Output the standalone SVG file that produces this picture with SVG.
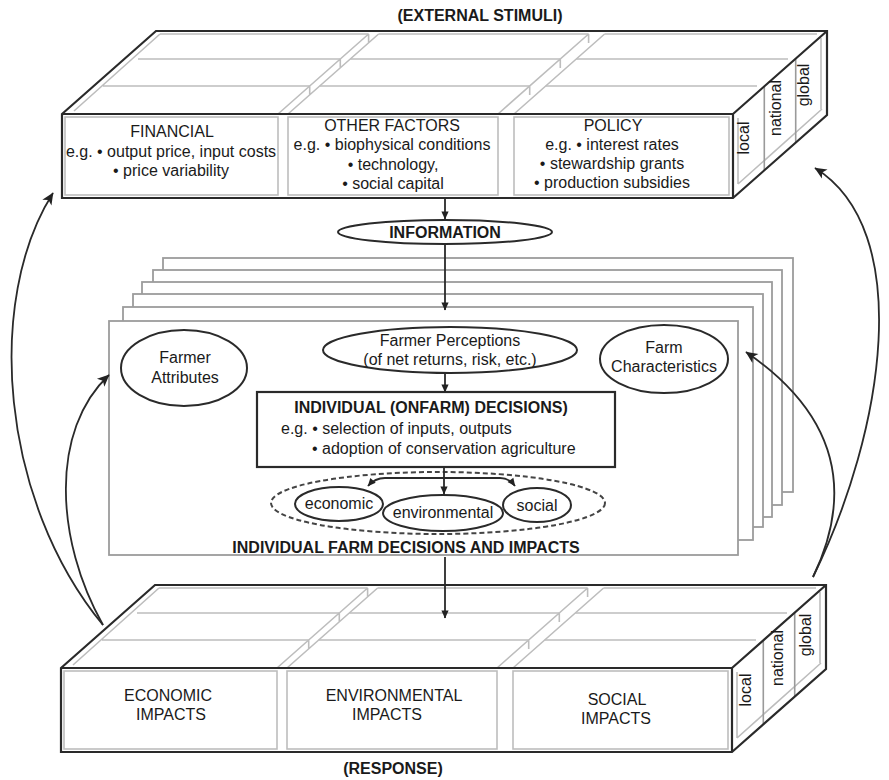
<svg xmlns="http://www.w3.org/2000/svg" xmlns:xlink="http://www.w3.org/1999/xlink" width="889" height="780" viewBox="0 0 889 780">
<style>
text{font-family:"Liberation Sans",Arial,sans-serif;font-size:16px;fill:#1a1a1a}
.b{font-weight:bold}
.m{text-anchor:middle}
.dark{fill:none;stroke:#2a2a2a;stroke-width:2.2}
.gray{fill:none;stroke:#bdbdbd;stroke-width:1.6}
.page{fill:#fff;stroke:#9c9c9c;stroke-width:1.8}
.ell{fill:#fff;stroke:#2a2a2a;stroke-width:2}
.con{fill:none;stroke:#2a2a2a;stroke-width:1.8}
</style>
<defs>
<marker id="ah" viewBox="0 0 10 10" refX="9.5" refY="5" markerWidth="9" markerHeight="8" markerUnits="userSpaceOnUse" orient="auto"><path d="M0,0.5 L10,5 L0,9.5 z" fill="#222"/></marker>
<marker id="ahL" viewBox="0 0 10 10" refX="9.5" refY="5" markerWidth="16" markerHeight="12" markerUnits="userSpaceOnUse" orient="auto"><path d="M0,0.5 L10,5 L0,9.5 L2.5,5 z" fill="#222"/></marker>
<g id="box3d">
<polygon points="0,0 94,-83 765,-83 671,0" fill="#fff"/>
<polygon points="671,0 765,-83 765,1 671,84" fill="#fff"/>
<rect x="0" y="0" width="671" height="84" fill="#fff"/>
<!-- top face gray lines -->
<path class="gray" d="M12,-3 L98,-80 M41,-28 L247.7,-28 M257.7,-28 L467.7,-28 M483.7,-28 L695,-28 M76,-55 L278.3,-55 M288.3,-55 L498.3,-55 M514.3,-55 L726,-55 M98,-80 L306.6,-80 M316.6,-80 L526.6,-80 M542.6,-80 L755,-80"/>
<path class="gray" d="M216,0 L306.6,-80 M226,0 L316.6,-80 M247.7,-28 L247.7,-19 M278.3,-55 L278.3,-46 M306.6,-80 L306.6,-71 M436,0 L526.6,-80 M452,0 L542.6,-80 M467.7,-28 L467.7,-19 M498.3,-55 L498.3,-46 M526.6,-80 L526.6,-71"/>
<!-- side face -->
<path class="gray" d="M676,70 L760,-5 M759,-76 L759,-5 M676,4 L676,70"/>
<path d="M702.3,-27.4 L702.3,56 M733.7,-55 L733.7,28" fill="none" stroke="#9a9a9a" stroke-width="1.6"/>
<!-- front panels -->
<rect class="gray" x="3" y="3" width="213" height="78"/>
<rect class="gray" x="226" y="3" width="210" height="78"/>
<rect class="gray" x="452" y="3" width="215" height="78"/>
<!-- outline -->
<path class="dark" d="M0,0 L94,-83 L765,-83 L765,1 L671,84 L0,84 Z M0,0 L671,0 L765,-83 M671,0 L671,84"/>
</g>
</defs>

<text class="b m" x="480" y="21">(EXTERNAL STIMULI)</text>

<g id="external-stimuli">
<use xlink:href="#box3d" href="#box3d" transform="translate(62,114)"/>
<text class="m" x="172" y="137">FINANCIAL</text>
<text class="m" x="171" y="157">e.g. • output price, input costs</text>
<text class="m" x="171" y="176">• price variability</text>
<text class="m" x="392" y="131">OTHER FACTORS</text>
<text class="m" x="392" y="150">e.g. • biophysical conditions</text>
<text class="m" x="393" y="170">• technology,</text>
<text class="m" x="393" y="189">• social capital</text>
<text class="m" x="613" y="131">POLICY</text>
<text class="m" x="612" y="150">e.g. • interest rates</text>
<text class="m" x="612" y="169">• stewardship grants</text>
<text class="m" x="612" y="188">• production subsidies</text>
<text class="m" transform="translate(749,138) rotate(-90)">local</text>
<text class="m" transform="translate(781,108) rotate(-90)">national</text>
<text class="m" transform="translate(809,85) rotate(-90)">global</text>
</g>

<g id="information">
<ellipse class="ell" cx="445" cy="232" rx="107" ry="12"/>
<text class="b m" x="445" y="238">INFORMATION</text>
</g>

<g id="farm-pages">
<rect class="page" x="163" y="258" width="630" height="234"/>
<rect class="page" x="153" y="270" width="629" height="235"/>
<rect class="page" x="142" y="282" width="630" height="235"/>
<rect class="page" x="133" y="294" width="630" height="233"/>
<rect class="page" x="123" y="307" width="630" height="233"/>
<rect class="page" x="109" y="321" width="629" height="234"/>
<text class="b m" x="406" y="553">INDIVIDUAL FARM DECISIONS AND IMPACTS</text>
</g>

<g id="farmer-attributes">
<ellipse class="ell" cx="184" cy="368" rx="63" ry="38"/>
<text class="m" x="185" y="363">Farmer</text>
<text class="m" x="185" y="383">Attributes</text>
</g>

<g id="farmer-perceptions">
<ellipse class="ell" cx="450" cy="350" rx="127" ry="23"/>
<text class="m" x="450" y="346">Farmer Perceptions</text>
<text class="m" x="450" y="365">(of net returns, risk, etc.)</text>
</g>

<g id="farm-characteristics">
<ellipse class="ell" cx="664" cy="359" rx="64" ry="34"/>
<text class="m" x="664" y="353">Farm</text>
<text class="m" x="664" y="372">Characteristics</text>
</g>

<g id="onfarm-decisions">
<rect x="257" y="392" width="358" height="75" fill="#fff" stroke="#2a2a2a" stroke-width="2.2"/>
<text class="b m" x="431" y="413">INDIVIDUAL (ONFARM) DECISIONS)</text>
<text x="281" y="434">e.g. • selection of inputs, outputs</text>
<text x="312" y="454">• adoption of conservation agriculture</text>
</g>

<g id="impacts-group">
<ellipse cx="438" cy="503" rx="167" ry="31" fill="none" stroke="#444" stroke-width="2" stroke-dasharray="5 3"/>
</g>
<g id="economic">
<ellipse class="ell" cx="339" cy="504" rx="44" ry="17"/>
<text class="m" x="339" y="509">economic</text>
</g>
<g id="environmental">
<ellipse class="ell" cx="443" cy="513" rx="60" ry="18"/>
<text class="m" x="443" y="518">environmental</text>
</g>
<g id="social">
<ellipse class="ell" cx="537" cy="505" rx="34" ry="17"/>
<text class="m" x="537" y="511">social</text>
</g>

<g id="response">
<use xlink:href="#box3d" href="#box3d" transform="translate(61,668)"/>
<text class="m" x="168" y="701">ECONOMIC</text>
<text class="m" x="171" y="720">IMPACTS</text>
<text class="m" x="394" y="701">ENVIRONMENTAL</text>
<text class="m" x="387" y="720">IMPACTS</text>
<text class="m" x="617" y="705">SOCIAL</text>
<text class="m" x="616" y="724">IMPACTS</text>
<text class="m" transform="translate(751,690) rotate(-90)">local</text>
<text class="m" transform="translate(783,658) rotate(-90)">national</text>
<text class="m" transform="translate(811,635) rotate(-90)">global</text>
</g>
<text class="b m" x="393" y="774">(RESPONSE)</text>

<g id="connectors">
<path class="con" d="M445,198 L445,219" marker-end="url(#ah)"/>
<path class="con" d="M445,244 L445,310" marker-end="url(#ah)"/>
<path class="con" d="M445,373 L445,392" marker-end="url(#ah)"/>
<path class="con" d="M444,467 L444,494" marker-end="url(#ah)"/>
<path class="con" d="M444,478 L385,478 Q375,478 368,486" marker-end="url(#ah)"/>
<path class="con" d="M444,478 L500,478 Q509,478 515,486" marker-end="url(#ah)"/>
<path class="con" d="M445,557 L445,618" marker-end="url(#ah)"/>
<path class="con" d="M103,625 C0,500 -15,300 53,193" marker-end="url(#ahL)"/>
<path class="con" d="M103,625 C55,540 50,430 109,375" marker-end="url(#ahL)"/>
<path class="con" d="M813,577 C850,500 845,420 746,352" marker-end="url(#ahL)"/>
<path class="con" d="M813,577 C885,430 915,230 815,168" marker-end="url(#ahL)"/>
</g>
</svg>
